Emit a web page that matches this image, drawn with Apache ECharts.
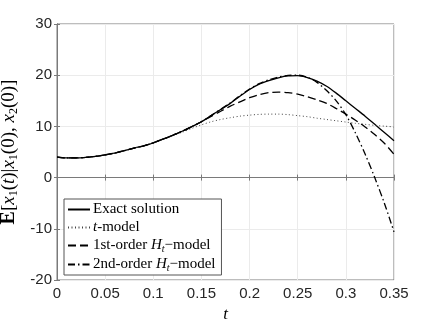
<!DOCTYPE html>
<html>
<head>
<meta charset="utf-8">
<script src="https://cdn.jsdelivr.net/npm/echarts@6/dist/echarts.min.js"></script>
<style>
    html, body { margin: 0; padding: 0; background: #fff; }
    #chart { width: 436px; height: 327px; }
</style>
</head>
<body>
<div id="chart"></div>
<script>
// time samples
var tVals = [0, 0.01, 0.02, 0.03, 0.04, 0.05, 0.06, 0.07, 0.08, 0.09, 0.10, 0.11, 0.12,
    0.13, 0.14, 0.15, 0.16, 0.17, 0.18, 0.19, 0.20, 0.21, 0.22, 0.23, 0.24, 0.25,
    0.26, 0.27, 0.28, 0.29, 0.30, 0.31, 0.32, 0.33, 0.34, 0.35];

var exactVals = [4.0, 3.85, 3.85, 3.95, 4.15, 4.45, 4.8, 5.25, 5.75, 6.2, 6.8, 7.5, 8.25,
    9.05, 9.95, 10.9, 12.1, 13.3, 14.5, 15.9, 17.2, 18.25, 18.95, 19.5, 19.85, 19.9,
    19.55, 18.85, 17.85, 16.5, 15.0, 13.5, 12.0, 10.4, 8.8, 7.2];

var tModelVals = [4.0, 3.85, 3.85, 3.95, 4.15, 4.45, 4.8, 5.25, 5.75, 6.2, 6.8, 7.45, 8.15,
    8.85, 9.6, 10.3, 10.9, 11.35, 11.7, 12.0, 12.2, 12.35, 12.4, 12.4, 12.3, 12.1,
    11.9, 11.6, 11.35, 11.1, 10.85, 10.6, 10.4, 10.2, 10.05, 9.9];

var firstOrderVals = [4.0, 3.85, 3.85, 3.95, 4.15, 4.45, 4.8, 5.25, 5.75, 6.2, 6.8, 7.5, 8.25,
    9.05, 9.95, 10.9, 11.95, 12.95, 13.95, 14.8, 15.6, 16.2, 16.6, 16.7, 16.6, 16.3,
    15.8, 15.2, 14.5, 13.5, 12.4, 11.2, 9.9, 8.4, 6.7, 4.55];

var secondOrderVals = [4.0, 3.85, 3.85, 3.95, 4.15, 4.45, 4.8, 5.25, 5.75, 6.2, 6.8, 7.5, 8.25,
    9.05, 9.95, 10.9, 12.1, 13.35, 14.6, 16.0, 17.3, 18.35, 19.1, 19.65, 19.95, 20.0,
    19.6, 18.6, 17.0, 15.0, 12.3, 8.7, 4.6, 0.0, -5.0, -10.6];

var seriesNames = ["Exact solution", "t-model", "1st-order Ht-model", "2nd-order Ht-model"];

function pairs(vals) {
    var out = [];
    for (var i = 0; i < tVals.length; i++) {
        out.push([tVals[i], vals[i]]);
    }
    return out;
}

var serif = "'Liberation Serif', 'DejaVu Serif', serif";
var sans = "'Liberation Sans', Arial, sans-serif";
var axisGray = "#7a7a7a";
var gridGray = "#ebebeb";

var chart = echarts.init(document.getElementById("chart"), null, { renderer: "canvas" });

function lineSeries(name, vals, type, color, width) {
    return {
        name: name,
        type: "line",
        data: pairs(vals),
        smooth: 0.3,
        symbol: "none",
        showSymbol: false,
        animation: false,
        lineStyle: { color: color, width: width, type: type },
        itemStyle: { color: color }
    };
}

var legendRich = {
    n: { fontFamily: serif, fontSize: 15, color: "#000" },
    i: { fontFamily: serif, fontSize: 15, fontStyle: "italic", color: "#000" },
    s: { fontFamily: serif, fontSize: 10, fontStyle: "italic", color: "#000", padding: [7, 0, 0, 0] }
};

chart.setOption({
    backgroundColor: "#fff",
    grid: {
        left: 57,
        right: 42,
        top: 24,
        bottom: 47,
        containLabel: false,
        outerBoundsMode: "none",
        show: true,
        borderColor: axisGray,
        borderWidth: 1
    },
    legend: {
        orient: "vertical",
        left: 64,
        top: 199,
        itemWidth: 22,
        itemHeight: 10,
        itemGap: 3,
        padding: [3, 6, 2, 3],
        backgroundColor: "#fff",
        borderColor: "#555",
        borderWidth: 1,
        borderRadius: 0,
        data: seriesNames,
        itemStyle: { color: "transparent", borderWidth: 0, opacity: 0 },
        formatter: function (name) {
            if (name === "Exact solution") return "{n|Exact solution}";
            if (name === "t-model") return "{i|t}{n|-model}";
            if (name === "1st-order Ht-model") return "{n|1st-order }{i|H}{s|t}{n|\u2212model}";
            return "{n|2nd-order }{i|H}{s|t}{n|\u2212model}";
        },
        textStyle: { fontFamily: serif, fontSize: 15, color: "#000", padding: [0, 0, 0, -2], rich: legendRich }
    },
    xAxis: [{
        type: "value",
        min: 0,
        max: 0.35,
        interval: 0.05,
        name: "t",
        nameLocation: "middle",
        nameGap: 25,
        nameTextStyle: { fontFamily: serif, fontStyle: "italic", fontSize: 17, color: "#000" },
        axisLine: { show: true, lineStyle: { color: axisGray } },
        axisTick: { show: true, inside: true, length: 3, lineStyle: { color: axisGray } },
        axisLabel: { fontFamily: sans, fontSize: 15, color: "#262626", margin: 6 },
        splitLine: { show: true, lineStyle: { color: gridGray, width: 1 } }
    }, {
        type: "value",
        position: "top",
        min: 0,
        max: 0.35,
        interval: 0.05,
        axisLine: { show: true, lineStyle: { color: axisGray } },
        axisTick: { show: true, inside: true, length: 3, lineStyle: { color: axisGray } },
        axisLabel: { show: false },
        splitLine: { show: false }
    }],
    yAxis: [{
        type: "value",
        min: -20,
        max: 30,
        interval: 10,
        name: "{b|E}{n|[}{i|x}{s|1}{n|(}{i|t}{n|)|}{i|x}{s|1}{n|(0), }{i|x}{s|2}{n|(0)]}",
        nameLocation: "middle",
        nameGap: 30,
        nameTextStyle: {
            fontFamily: serif,
            fontSize: 19,
            color: "#000",
            rich: {
                b: { fontFamily: serif, fontSize: 20, fontWeight: "bold", color: "#000" },
                n: { fontFamily: serif, fontSize: 19, color: "#000" },
                i: { fontFamily: serif, fontSize: 19, fontStyle: "italic", color: "#000" },
                s: { fontFamily: serif, fontSize: 12, color: "#000", padding: [9, 0, 0, 0] }
            }
        },
        axisLine: { show: true, lineStyle: { color: axisGray } },
        axisTick: { show: true, inside: true, length: 3, lineStyle: { color: axisGray } },
        axisLabel: { fontFamily: sans, fontSize: 15, color: "#262626", margin: 5 },
        splitLine: { show: true, lineStyle: { color: gridGray, width: 1 } }
    }, {
        type: "value",
        position: "right",
        min: -20,
        max: 30,
        interval: 10,
        axisLine: { show: true, lineStyle: { color: axisGray } },
        axisTick: { show: true, inside: true, length: 3, lineStyle: { color: axisGray } },
        axisLabel: { show: false },
        splitLine: { show: false }
    }],
    series: [
        lineSeries(seriesNames[0], exactVals, "solid", "#000", 1.3),
        lineSeries(seriesNames[1], tModelVals, [1, 2.5], "#444", 1),
        lineSeries(seriesNames[2], firstOrderVals, [8, 4], "#000", 1.3),
        lineSeries(seriesNames[3], secondOrderVals, [7, 3, 1.5, 3], "#000", 1.3)
    ]
});
</script>
</body>
</html>
